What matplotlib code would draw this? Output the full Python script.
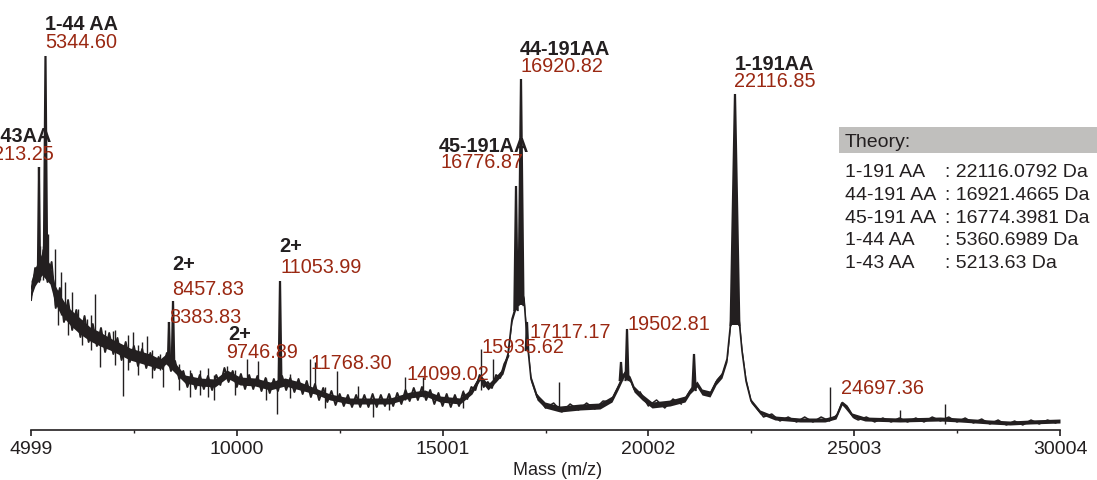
import numpy as np
import matplotlib
matplotlib.use('Agg')
import matplotlib.pyplot as plt

plt.rcParams['font.family'] = ['Liberation Sans', 'DejaVu Sans']

# baseline trace of the spectrum: mass, centre intensity, noise half-width
trace_mass = [4999, 5096, 5266, 5461, 5582, 5704, 5825, 5947, 6190, 6433,
              6676, 6919, 7162, 7405, 7648, 7891, 8134, 8280, 8523, 8741,
              9106, 9470, 9762, 10078, 10442, 10807, 11171, 11536, 11900, 12265,
              12751, 13237, 13723, 14209, 14573, 14938, 15424, 15715, 15910, 16104,
              16299, 16469, 16590, 16688, 16834, 16980, 17052, 17149, 17295, 17489,
              17854, 18340, 18826, 19118, 19264, 19410, 19556, 19653, 19847, 20090,
              20528, 20892, 21013, 21183, 21305, 21499, 21645, 21791, 21913, 22010,
              22204, 22277, 22374, 22496, 22714, 23079, 23686, 24294, 24561, 24707,
              24828, 24950, 25265, 26116, 27088, 27574, 28303, 28789, 29275, 30004]
trace_int = [141, 153, 166, 156, 136, 126, 119, 113, 104, 96,
             91, 86, 81, 76, 73, 70, 66, 71, 61, 51,
             48, 47, 56, 49, 48, 44, 48, 44, 39, 33,
             29, 29, 29, 35, 37, 31, 29, 39, 53, 43,
             51, 59, 76, 111, 131, 131, 91, 51, 33, 25,
             21, 23, 24, 31, 43, 56, 51, 41, 33, 25,
             27, 31, 39, 46, 38, 36, 48, 55, 71, 111,
             111, 79, 49, 29, 18, 12, 10, 10, 13, 27,
             23, 15, 11, 10, 11, 10, 8, 7, 8, 9]
trace_hw = [8, 9, 11, 10, 9, 9, 8, 8, 8, 7,
            7, 6, 6, 6, 6, 6, 5, 5, 5, 4,
            4, 4, 4, 4, 4, 4, 4, 4, 3, 3,
            3, 3, 3, 3, 3, 3, 3, 3, 3, 3,
            3, 3, 3, 3, 3, 3, 3, 3, 3, 3,
            3, 3, 3, 3, 3, 3, 3, 3, 3, 3,
            3, 3, 3, 3, 3, 3, 3, 3, 3, 3,
            3, 3, 3, 2, 2, 2, 2, 2, 2, 2,
            2, 2, 2, 2, 2, 2, 2, 2, 2, 2]

# jagged noisy baseline, low-mass side
noise_mass_a = [5000, 5100, 5200, 5300, 5400, 5500, 5600, 5700, 5800, 5900,
                6000, 6100, 6200, 6300, 6400, 6500, 6600, 6700, 6800, 6900,
                7000, 7100, 7200, 7300, 7400, 7500, 7600, 7700, 7800, 7900,
                8000, 8100, 8200, 8300, 8400, 8500, 8600, 8700, 8800, 8900,
                9000, 9100, 9200, 9300, 9400, 9500, 9600, 9700, 9800, 9900,
                10000, 10100, 10200, 10300, 10400, 10500, 10600, 10700, 10800, 10900,
                11000, 11100, 11200, 11300, 11400, 11500, 11600, 11700, 11800, 11900,
                12000, 12100, 12200, 12300, 12400, 12500, 12600, 12700, 12800, 12900,
                13000, 13100, 13200, 13300, 13400, 13500, 13600, 13700, 13800, 13900,
                14000, 14100, 14200, 14300, 14400, 14500, 14600, 14700, 14800, 14900,
                15000, 15100, 15200, 15300, 15400, 15500, 15600, 15700, 15800, 15900,
                16000, 16100, 16200, 16300, 16400, 16500, 16600]
noise_int_a = [130, 162, 148, 180, 148, 168, 122, 142, 108, 130,
               100, 120, 93, 114, 88, 106, 84, 102, 78, 97,
               76, 92, 70, 88, 68, 84, 64, 81, 62, 77,
               60, 73, 61, 77, 59, 69, 51, 59, 43, 56,
               41, 55, 41, 54, 40, 55, 45, 62, 48, 59,
               43, 56, 41, 55, 41, 54, 39, 52, 37, 51,
               39, 54, 40, 52, 38, 51, 36, 49, 33, 46,
               30, 42, 28, 39, 25, 36, 24, 35, 23, 35,
               23, 35, 23, 36, 23, 35, 24, 36, 24, 37,
               26, 40, 29, 42, 30, 43, 30, 40, 26, 37,
               24, 36, 23, 35, 24, 38, 31, 43, 40, 55,
               43, 48, 42, 55, 52, 66, 74]

# jagged noisy baseline, high-mass side
noise_mass_b = [17300, 17500, 17700, 17900, 18100, 18300, 18500, 18700, 18900, 19100,
                19800, 20000, 20200, 20400, 20600, 20800,
                22600, 22800, 23000, 23200, 23400, 23600, 23800, 24000, 24200, 24400,
                24500, 24600, 24700, 24800, 24900, 25000, 25100, 25300, 25500, 25700,
                25900, 26100, 26300, 26500, 26700, 26900, 27100, 27300, 27500, 27700,
                27900, 28100, 28300, 28500, 28700, 28900, 29100, 29300, 29500, 29700,
                29900]
noise_int_b = [35, 22, 27, 18, 26, 20, 27, 21, 29, 28,
               38, 24, 30, 22, 31, 26,
               24, 13, 16, 9, 13, 8, 13, 8, 13, 9,
               12, 16, 27, 22, 17, 12, 10, 13, 8, 12,
               8, 12, 8, 12, 8, 13, 9, 13, 8, 12,
               7, 11, 6, 10, 5, 9, 5, 10, 6, 10,
               7]

# sharp peaks: mass, foot, top, half-width (Da)
peak_mass = [5193, 5351, 8352, 8450, 11050, 16785, 16906, 17052, 19336, 19482, 21110, 22106]
peak_foot = [160, 165, 70, 65, 45, 120, 125, 80, 50, 50, 40, 105]
peak_top = [263, 374, 108, 129, 149, 244, 351, 108, 68, 101, 76, 336]
peak_hw = [25, 40, 25, 30, 35, 40, 60, 30, 30, 35, 40, 105]

# noise spikes: mass, low, high
spike_mass = [5218, 5291, 5412, 5582, 5728, 5825, 5995, 6141, 6360, 6554,
              6676, 6797, 6992, 7235, 7478, 7696, 7818, 8134, 8207, 8863,
              9106, 9300, 9762, 10248, 10515, 10977, 11779, 11900, 12435, 12945,
              13310, 14087, 14525, 15934, 16226, 17829, 24415, 26116, 27209,
              5650, 5900, 6250, 6450, 7050, 7350, 7600, 7950, 8600, 9450,
              9950, 10700, 11300, 12150, 13700, 15500]
spike_lo = [150, 150, 150, 125, 115, 110, 105, 100, 95, 90,
            63, 80, 80, 34, 72, 68, 68, 60, 43, 33,
            35, 33, 50, 45, 45, 16, 40, 38, 30, 28,
            13, 30, 33, 40, 45, 20, 10, 10, 6,
            105, 95, 85, 80, 65, 60, 55, 52, 40, 30,
            35, 30, 32, 22, 20, 22]
spike_hi = [184, 184, 196, 181, 158, 148, 138, 121, 111, 136,
            90, 100, 99, 80, 98, 88, 94, 76, 66, 60,
            60, 62, 64, 71, 69, 50, 71, 68, 59, 44,
            30, 53, 53, 81, 71, 48, 43, 20, 26,
            140, 125, 110, 115, 100, 95, 85, 80, 66, 55,
            60, 52, 56, 43, 36, 40]

# peak annotations
bold_labels = ['1-44 AA', '1-43AA', '44-191AA', '45-191AA', '1-191AA', '2+', '2+', '2+']
mass_labels = ['5344.60', '5213.25', '16920.82', '16776.87', '22116.85', '8457.83',
               '8383.83', '9746.89', '11053.99', '11768.30', '14099.02', '15935.62',
               '17117.17', '19502.81', '24697.36']

theory_names = ['1-191 AA', '44-191 AA', '45-191 AA', '1-44 AA', '1-43 AA']
theory_values = ['22116.0792 Da', '16921.4665 Da', '16774.3981 Da', '5360.6989 Da', '5213.63 Da']

tick_vals = [4999, 10000, 15001, 20002, 25003, 30004]

dark = '#231f20'
red = '#9a2812'

fig = plt.figure(figsize=(10.97, 4.81), dpi=100)
ax = fig.add_axes([31 / 1097, 50 / 481, 1029 / 1097, 431 / 481])

m = np.array(trace_mass)
c = np.array(trace_int)
h = np.array(trace_hw)
ax.fill_between(m, c - h, c + h, color=dark, lw=0)
ax.plot(m, c, color=dark, lw=1.2)
ax.plot(noise_mass_a, noise_int_a, color=dark, lw=1.4)
ax.plot(noise_mass_b[:10], noise_int_b[:10], color=dark, lw=1.1)
ax.plot(noise_mass_b[10:16], noise_int_b[10:16], color=dark, lw=1.1)
ax.plot(noise_mass_b[16:], noise_int_b[16:], color=dark, lw=1.1)

for pm, pf, pt, pw in zip(peak_mass, peak_foot, peak_top, peak_hw):
    ax.fill([pm - pw, pm, pm + pw], [pf, pt, pf], color=dark, lw=0)
    ax.plot([pm - pw, pm, pm + pw], [pf, pt, pf], color=dark, lw=1.6, solid_joinstyle='miter')

ax.vlines(spike_mass, spike_lo, spike_hi, color=dark, lw=1.0)

ax.set_xlim(4999, 30004)
ax.set_ylim(0, 431)

# labels, positions in data units (mass, intensity)
bold_pos = [(5339, 401, 'left'), (5509, 289, 'right'), (16882, 376, 'left'),
            (14913, 279, 'left'), (22106, 361, 'left'), (8425, 161, 'left'),
            (9786, 91, 'left'), (11025, 179, 'left')]
for txt, (x, y, ha) in zip(bold_labels, bold_pos):
    ax.text(x, y, txt, color=dark, fontsize=14.3, fontweight='bold', ha=ha, va='baseline')

red_pos = [(5339, 383, 'left'), (5558, 271, 'right'), (16906, 359, 'left'),
           (14962, 263, 'left'), (22082, 344, 'left'), (8425, 136, 'left'),
           (8352, 108, 'left'), (9738, 73, 'left'), (11050, 158, 'left'),
           (11779, 62, 'left'), (14112, 51, 'left'), (15958, 78, 'left'),
           (17101, 93, 'left'), (19482, 101, 'left'), (24682, 37, 'left')]
for txt, (x, y, ha) in zip(mass_labels, red_pos):
    ax.text(x, y, txt, color=red, fontsize=14.3, ha=ha, va='baseline')

for s in ['top', 'left', 'right']:
    ax.spines[s].set_visible(False)
ax.spines['bottom'].set_color(dark)
ax.spines['bottom'].set_linewidth(1.2)
ax.set_yticks([])
ax.set_xticks(tick_vals)
ax.set_xticklabels([str(t) for t in tick_vals])
ax.set_xticks([(a + b) / 2 for a, b in zip(tick_vals[:-1], tick_vals[1:])], minor=True)
ax.tick_params(axis='x', which='major', length=4, width=1.2, color=dark,
               labelsize=14, labelcolor=dark, pad=3)
ax.tick_params(axis='x', which='minor', length=2, width=1.0, color=dark)
ax.patch.set_visible(False)

fig.text(558 / 1097, 1 - 475 / 481, 'Mass (m/z)', color=dark, fontsize=13,
         ha='center', va='baseline')

# theory box
fig.patches.append(plt.Rectangle((839 / 1097, 1 - 154 / 481), 258 / 1097, 26 / 481,
                                 transform=fig.transFigure, color='#c0bfbd', lw=0))
fig.text(845 / 1097, 1 - 147 / 481, 'Theory:', color=dark, fontsize=14, va='baseline')
for i, (n, v) in enumerate(zip(theory_names, theory_values)):
    yb = 1 - (177 + 22.8 * i) / 481
    fig.text(845 / 1097, yb, n, color=dark, fontsize=14, va='baseline')
    fig.text(945 / 1097, yb, ': ' + v, color=dark, fontsize=14, va='baseline')

fig.savefig('out.png', dpi=100)
